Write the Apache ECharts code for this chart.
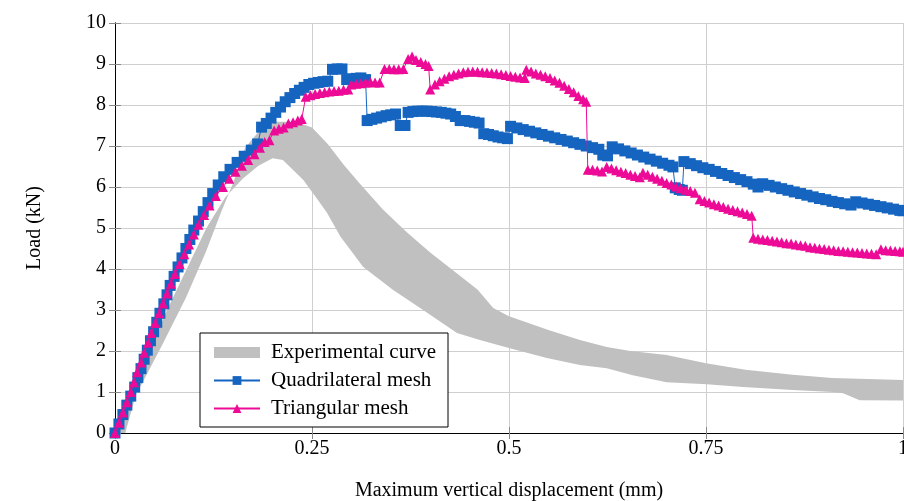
<!DOCTYPE html>
<html>
<head>
<meta charset="utf-8">
<script src="https://cdn.jsdelivr.net/npm/echarts@6/dist/echarts.min.js"></script>
<style>
  html, body { margin: 0; padding: 0; background: #fff; }
  #main { width: 904px; height: 501px; }
</style>
</head>
<body>
<div id="main"></div>
<script>
// experimental envelope (upper / lower edge of the grey band)
var expUpperX = [0, 0.015, 0.03, 0.06, 0.09, 0.115, 0.135, 0.15, 0.165, 0.184, 0.205, 0.23, 0.25, 0.27, 0.29, 0.31, 0.34, 0.37, 0.40, 0.43, 0.46, 0.48, 0.50, 0.55, 0.59, 0.624, 0.654, 0.70, 0.75, 0.80, 0.86, 0.91, 1.0];
var expUpperY = [0, 0.55, 1.05, 2.15, 3.3, 4.4, 5.4, 6.1, 6.95, 7.39, 7.59, 7.59, 7.45, 7.05, 6.55, 6.1, 5.45, 4.9, 4.4, 3.95, 3.5, 3.05, 2.85, 2.51, 2.27, 2.1, 2.0, 1.9, 1.7, 1.54, 1.42, 1.34, 1.29];
var expLowerX = [0.013, 0.0275, 0.044, 0.066, 0.091, 0.116, 0.14, 0.162, 0.182, 0.20, 0.213, 0.239, 0.255, 0.269, 0.286, 0.315, 0.353, 0.391, 0.434, 0.463, 0.501, 0.548, 0.59, 0.624, 0.657, 0.70, 0.751, 0.797, 0.86, 0.911, 0.924, 0.945, 1.0];
var expLowerY = [0, 1, 2, 3, 4, 5, 5.75, 6.2, 6.52, 6.7, 6.66, 6.17, 5.75, 5.37, 4.79, 4.05, 3.49, 3.0, 2.44, 2.27, 2.07, 1.83, 1.66, 1.58, 1.41, 1.24, 1.19, 1.12, 1.05, 1.0, 0.97, 0.8, 0.79];

// quadrilateral mesh
var quadX = [0, 0.005, 0.010, 0.015, 0.020, 0.025, 0.029, 0.033, 0.037, 0.041, 0.045, 0.049, 0.053, 0.057, 0.062, 0.066, 0.070, 0.075, 0.080, 0.085, 0.090, 0.095, 0.100, 0.106, 0.112, 0.118, 0.124, 0.131, 0.138, 0.146, 0.155, 0.164, 0.173, 0.181,
  0.186, 0.192, 0.198, 0.204, 0.210, 0.216, 0.222, 0.228, 0.234, 0.240, 0.246, 0.252, 0.258, 0.264, 0.270, 0.276, 0.282, 0.288, 0.294, 0.300, 0.306, 0.312, 0.318,
  0.320, 0.326, 0.332, 0.338, 0.344, 0.350, 0.356, 0.362, 0.368, 0.372, 0.378, 0.384, 0.390, 0.396, 0.402, 0.408, 0.414, 0.420, 0.426, 0.432, 0.438, 0.444, 0.450, 0.456, 0.462,
  0.468, 0.474, 0.480, 0.486, 0.492, 0.498, 0.502, 0.510, 0.518, 0.526, 0.534, 0.542, 0.550, 0.558, 0.566, 0.574, 0.582, 0.590, 0.598, 0.606, 0.614, 0.619, 0.625,
  0.631, 0.639, 0.647, 0.655, 0.663, 0.671, 0.679, 0.687, 0.695, 0.703, 0.708, 0.711, 0.716, 0.720,
  0.722, 0.730, 0.738, 0.746, 0.754, 0.762, 0.770, 0.778, 0.786, 0.794, 0.802, 0.810, 0.816, 0.822, 0.830, 0.838, 0.846, 0.854, 0.862, 0.870, 0.878, 0.886, 0.894, 0.902, 0.910, 0.918, 0.926, 0.934,
  0.940, 0.948, 0.956, 0.964, 0.972, 0.980, 0.988, 0.996, 1.0];
var quadY = [0, 0.22, 0.45, 0.68, 0.90, 1.12, 1.35, 1.57, 1.80, 2.02, 2.25, 2.47, 2.70, 2.92, 3.15, 3.37, 3.60, 3.82, 4.05, 4.27, 4.50, 4.72, 4.95, 5.17, 5.40, 5.62, 5.84, 6.05, 6.25, 6.43, 6.60, 6.75, 6.90, 7.05,
  7.46, 7.55, 7.68, 7.82, 7.95, 8.08, 8.18, 8.28, 8.36, 8.43, 8.50, 8.53, 8.55, 8.57, 8.58, 8.87, 8.88, 8.88, 8.62, 8.64, 8.65, 8.66, 8.62,
  7.62, 7.65, 7.68, 7.71, 7.74, 7.76, 7.78, 7.50, 7.50, 7.82, 7.84, 7.85, 7.85, 7.85, 7.84, 7.83, 7.82, 7.80, 7.78, 7.72, 7.62, 7.62, 7.60, 7.58, 7.56,
  7.30, 7.28, 7.25, 7.22, 7.20, 7.18, 7.48, 7.44, 7.40, 7.36, 7.32, 7.28, 7.24, 7.20, 7.16, 7.12, 7.08, 7.04, 7.00, 6.96, 6.92, 6.78, 6.76,
  6.98, 6.93, 6.88, 6.83, 6.78, 6.73, 6.68, 6.63, 6.58, 6.53, 6.49, 5.98, 5.94, 5.92,
  6.62, 6.57, 6.52, 6.47, 6.43, 6.38, 6.33, 6.28, 6.23, 6.18, 6.13, 6.07, 6.00, 6.08, 6.04, 6.00, 5.96, 5.92, 5.88, 5.84, 5.80, 5.76, 5.72, 5.69, 5.65, 5.62, 5.59, 5.56,
  5.64, 5.61, 5.58, 5.55, 5.52, 5.49, 5.46, 5.43, 5.42];

// triangular mesh
var triX = [0, 0.005, 0.010, 0.015, 0.020, 0.024, 0.028, 0.033, 0.037, 0.042, 0.046, 0.051, 0.056, 0.061, 0.066, 0.071, 0.076, 0.082, 0.088, 0.094, 0.100, 0.106, 0.113, 0.120, 0.128, 0.137, 0.145, 0.153, 0.161, 0.169, 0.177, 0.184,
  0.190, 0.196, 0.202, 0.208, 0.214, 0.220, 0.226, 0.232, 0.237,
  0.242, 0.248, 0.254, 0.260, 0.266, 0.272, 0.278, 0.284, 0.290, 0.296, 0.300, 0.306, 0.312, 0.318, 0.324, 0.330, 0.336,
  0.342, 0.348, 0.354, 0.360, 0.366, 0.372, 0.377, 0.382, 0.388, 0.394, 0.398,
  0.400, 0.406, 0.412, 0.418, 0.424, 0.430, 0.436, 0.442, 0.448, 0.454, 0.460, 0.466, 0.472, 0.478, 0.484, 0.490, 0.496, 0.502, 0.508, 0.514, 0.520,
  0.522, 0.528, 0.534, 0.540, 0.546, 0.552, 0.558, 0.564, 0.570, 0.576, 0.582, 0.588, 0.594, 0.598,
  0.600, 0.606, 0.612, 0.618, 0.624, 0.630, 0.636, 0.642, 0.648, 0.654, 0.660, 0.666, 0.670, 0.676, 0.682, 0.688, 0.694, 0.700, 0.706, 0.712, 0.718, 0.724, 0.730, 0.736,
  0.742, 0.748, 0.754, 0.760, 0.766, 0.772, 0.778, 0.784, 0.790, 0.796, 0.802, 0.808,
  0.810, 0.816, 0.822, 0.828, 0.834, 0.840, 0.846, 0.852, 0.858, 0.864, 0.870, 0.876,
  0.882, 0.888, 0.894, 0.900, 0.906, 0.912, 0.918, 0.924, 0.930, 0.936, 0.942, 0.948, 0.954, 0.960, 0.966,
  0.972, 0.978, 0.984, 0.990, 0.996, 1.0];
var triY = [0, 0.25, 0.50, 0.75, 1.00, 1.24, 1.48, 1.72, 1.96, 2.20, 2.44, 2.68, 2.92, 3.16, 3.40, 3.64, 3.88, 4.12, 4.36, 4.60, 4.84, 5.08, 5.32, 5.55, 5.78, 6.00, 6.20, 6.37, 6.52, 6.66, 6.80, 6.96,
  7.10, 7.14, 7.38, 7.42, 7.45, 7.55, 7.58, 7.62, 7.66,
  8.20, 8.24, 8.27, 8.29, 8.31, 8.33, 8.34, 8.35, 8.37, 8.38, 8.50, 8.52, 8.53, 8.54, 8.56, 8.55, 8.55,
  8.88, 8.88, 8.87, 8.87, 8.88, 9.12, 9.18, 9.10, 9.05, 9.00, 8.95,
  8.38, 8.50, 8.58, 8.64, 8.70, 8.74, 8.77, 8.80, 8.81, 8.82, 8.81, 8.80, 8.79, 8.78, 8.77, 8.75, 8.73, 8.71, 8.69, 8.67, 8.66,
  8.86, 8.82, 8.77, 8.74, 8.70, 8.66, 8.60, 8.54, 8.47, 8.39, 8.31, 8.22, 8.14, 8.08,
  6.42, 6.42, 6.40, 6.38, 6.49, 6.45, 6.41, 6.37, 6.34, 6.30, 6.27, 6.24, 6.35, 6.30, 6.25, 6.20, 6.15, 6.10, 6.06, 6.01, 5.97, 5.93, 5.90, 5.86,
  5.70, 5.66, 5.62, 5.58, 5.55, 5.51, 5.47, 5.44, 5.41, 5.38, 5.34, 5.30,
  4.76, 4.74, 4.72, 4.71, 4.69, 4.67, 4.65, 4.63, 4.62, 4.60, 4.58, 4.57,
  4.53, 4.52, 4.50, 4.49, 4.47, 4.46, 4.44, 4.43, 4.42, 4.41, 4.40, 4.39, 4.38, 4.37, 4.36,
  4.48, 4.46, 4.45, 4.44, 4.43, 4.42];

var xTicks = [0, 0.25, 0.5, 0.75, 1];

var font = '"Liberation Serif", "DejaVu Serif", serif';
var pairs = function (xs, ys) { return xs.map(function (x, i) { return [x, ys[i]]; }); };

var chart = echarts.init(document.getElementById('main'));

var option = {
  animation: false,
  grid: { left: 115, right: 1, top: 23, bottom: 68, outerBoundsMode: 'none', containLabel: false },
  legend: {
    orient: 'vertical',
    left: 200,
    top: 333,
    padding: [9, 12, 8, 13],
    itemWidth: 46,
    itemHeight: 11,
    itemGap: 7,
    backgroundColor: '#fff',
    borderColor: '#000',
    borderWidth: 1,
    textStyle: { fontFamily: font, fontSize: 21, color: '#000', padding: [0, 0, 0, 6] },
    data: [
      { name: 'Experimental curve', icon: 'rect' },
      { name: 'Quadrilateral mesh' },
      { name: 'Triangular mesh' }
    ]
  },
  xAxis: [
    {
      type: 'value',
      min: 0,
      max: 1,
      interval: 0.25,
      name: 'Maximum vertical displacement (mm)',
      nameLocation: 'middle',
      nameGap: 48,
      nameTextStyle: { fontFamily: font, fontSize: 20, color: '#000' },
      axisLine: { show: true, lineStyle: { color: '#000', width: 1 } },
      axisTick: { show: true, inside: true, length: 6, lineStyle: { color: '#888' } },
      axisLabel: {
        fontFamily: font, fontSize: 20, color: '#000', margin: 6,
        formatter: function (v) { return xTicks.indexOf(v) >= 0 ? String(v) : ''; }
      },
      splitLine: { show: true, lineStyle: { color: '#cfcfcf', width: 1 } }
    },
    {
      type: 'value',
      position: 'top',
      min: 0,
      max: 1,
      interval: 0.25,
      axisLine: { show: true, lineStyle: { color: '#000', width: 1 } },
      axisTick: { show: true, inside: true, length: 6, lineStyle: { color: '#888' } },
      axisLabel: { show: false },
      splitLine: { show: false }
    }
  ],
  yAxis: [
    {
      type: 'value',
      min: 0,
      max: 10,
      interval: 1,
      name: 'Load (kN)',
      nameLocation: 'middle',
      nameGap: 70,
      nameTextStyle: { fontFamily: font, fontSize: 20, color: '#000' },
      axisLine: { show: true, lineStyle: { color: '#000', width: 1 } },
      axisTick: { show: true, inside: true, length: 6, lineStyle: { color: '#888' } },
      axisLabel: { fontFamily: font, fontSize: 20, color: '#000', margin: 9 },
      splitLine: { show: true, lineStyle: { color: '#cfcfcf', width: 1 } }
    },
    {
      type: 'value',
      position: 'right',
      min: 0,
      max: 10,
      interval: 1,
      axisLine: { show: true, lineStyle: { color: '#000', width: 1 } },
      axisTick: { show: true, inside: true, length: 6, lineStyle: { color: '#888' } },
      axisLabel: { show: false },
      splitLine: { show: false }
    }
  ],
  series: [
    {
      name: 'Experimental curve',
      type: 'custom',
      z: 1,
      itemStyle: { color: '#c0c0c0' },
      data: [[0, 0]],
      renderItem: function (params, api) {
        var pts = [];
        for (var i = 0; i < expUpperX.length; i++) {
          pts.push(api.coord([expUpperX[i], expUpperY[i]]));
        }
        for (var j = expLowerX.length - 1; j >= 0; j--) {
          pts.push(api.coord([expLowerX[j], expLowerY[j]]));
        }
        return { type: 'polygon', shape: { points: pts }, style: { fill: '#c0c0c0' } };
      }
    },
    {
      name: 'Quadrilateral mesh',
      type: 'line',
      z: 3,
      symbol: 'rect',
      symbolSize: 11,
      showAllSymbol: true,
      itemStyle: { color: '#1565c0' },
      lineStyle: { color: '#1565c0', width: 1 },
      data: pairs(quadX, quadY)
    },
    {
      name: 'Triangular mesh',
      type: 'line',
      z: 4,
      symbol: 'triangle',
      symbolSize: 10,
      showAllSymbol: true,
      itemStyle: { color: '#ec0a96' },
      lineStyle: { color: '#ec0a96', width: 1 },
      data: pairs(triX, triY)
    }
  ]
};

chart.setOption(option);
</script>
</body>
</html>
